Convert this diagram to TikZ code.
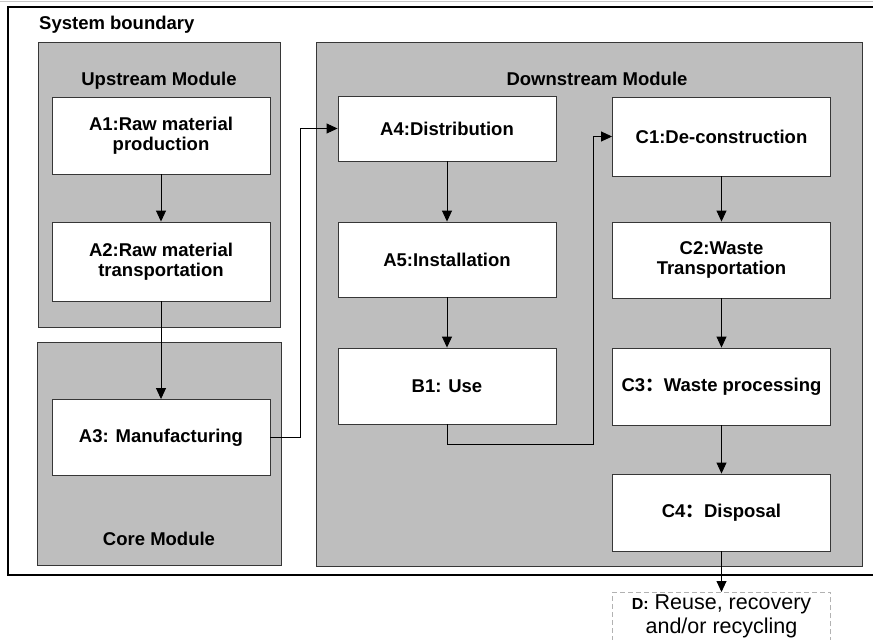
\documentclass[tikz,border=0pt]{standalone}
\usepackage{fontspec}
\setmainfont{Liberation Sans}
\newfontfamily\cjk{Noto Sans CJK SC}
\usetikzlibrary{arrows.meta}
\definecolor{modfill}{RGB}{190,190,190}
\definecolor{modline}{RGB}{55,55,55}
\begin{document}
\begin{tikzpicture}[x=1pt,y=-1pt,
  module/.style={draw=modline, fill=modfill, line width=1pt},
  stepbox/.style={draw=modline, fill=white, line width=0.9pt, minimum width=218pt, align=center,
    font=\fontsize{18.5}{20.5}\selectfont\bfseries, inner sep=0pt},
  modtitle/.style={font=\fontsize{18.5}{20.5}\selectfont\bfseries, inner sep=0pt},
  flow/.style={draw=black, line width=0.9pt, -{Triangle[length=11pt,width=10pt]}},
]
\useasboundingbox (0,0) rectangle (873,640);
% thin top line and system boundary
\draw[gray!45, line width=1pt] (0,1.5) -- (873,1.5);
\draw[line width=2pt] (874,7) -- (8,7) -- (8,575) -- (874,575);
\node[modtitle, anchor=base west] (sb) at (39,29) {System boundary};
% modules
\draw[module] (38,42) rectangle (280,327);
\draw[module] (37,342) rectangle (281,565);
\draw[module] (316,42) rectangle (862,566);
\node[modtitle, anchor=base] (up) at (159,85) {Upstream Module};
\node[modtitle, anchor=base] (core) at (159,545) {Core Module};
\node[modtitle, anchor=base] (down) at (597,85) {Downstream Module};
% steps
\node[stepbox, minimum height=77pt] (A1) at (161,135.5) {A1:Raw material\\production};
\node[stepbox, minimum height=79pt] (A2) at (161,261.5) {A2:Raw material\\transportation};
\node[stepbox, minimum height=76pt] (A3) at (161,437.5) {A3: Manufacturing};
\node[stepbox, minimum height=65pt] (A4) at (447,128.5) {A4:Distribution};
\node[stepbox, minimum height=75pt] (A5) at (447,259.5) {A5:Installation};
\node[stepbox, minimum height=76pt] (B1) at (447,386) {B1: Use};
\node[stepbox, minimum height=79pt] (C1) at (721.5,136.5) {C1:De-construction};
\node[stepbox, minimum height=76pt] (C2) at (721.5,260) {C2:Waste\\Transportation};
\node[stepbox, minimum height=77pt] (C3) at (721.5,386.5) {C3{\cjk ：}Waste processing};
\node[stepbox, minimum height=77pt] (C4) at (721.5,512.5) {C4{\cjk ：}Disposal};
% D box
\node[draw=gray!60, dash pattern=on 5pt off 3pt, line width=0.9pt, minimum width=218pt,
  minimum height=80pt, anchor=north, inner sep=0pt] (D) at (721.5,592) {};
\node[align=center, font=\fontsize{21.5}{24}\selectfont, inner sep=0pt] (Dt) at (721.5,616)
  {{\fontsize{16}{24}\selectfont\bfseries D:} Reuse, recovery\\and/or recycling};
% connectors
\draw[flow] (A1.south) -- (A2.north);
\draw[flow] (A2.south) -- (A3.north);
\draw[flow] (A3.east) -- ++(30,0) |- (A4.west);
\draw[flow] (A4.south) -- (A5.north);
\draw[flow] (A5.south) -- (B1.north);
\draw[flow] (B1.south) -- ++(0,20) -| ([xshift=-19pt]C1.west) -- (C1.west);
\draw[flow] (C1.south) -- (C2.north);
\draw[flow] (C2.south) -- (C3.north);
\draw[flow] (C3.south) -- (C4.north);
\draw[flow] (C4.south) -- (D.north);
\end{tikzpicture}
\end{document}
